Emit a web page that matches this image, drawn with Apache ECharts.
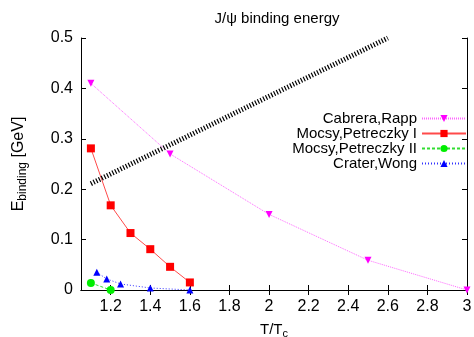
<!DOCTYPE html>
<html>
<head>
<meta charset="utf-8">
<script src="https://cdn.jsdelivr.net/npm/echarts@6/dist/echarts.min.js"></script>
<style>
  html, body { margin: 0; padding: 0; background: #fff; }
  #chart { width: 474px; height: 337px; }
</style>
</head>
<body>
<div id="chart"></div>
<script>
// values
var xTicks = [1.2, 1.4, 1.6, 1.8, 2, 2.2, 2.4, 2.6, 2.8, 3];
var cabreraRapp = [[1.1, 0.41], [1.5, 0.27], [2, 0.15], [2.5, 0.059], [3, 0]];
var mocsyI = [[1.1, 0.281], [1.2, 0.168], [1.3, 0.113], [1.4, 0.081], [1.5, 0.046], [1.6, 0.015]];
var mocsyII = [[1.1, 0.014], [1.2, 0]];
var craterWong = [[1.13, 0.035], [1.18, 0.022], [1.25, 0.012], [1.4, 0.004], [1.6, 0]];
var boundLine = [[1.1, 0.211], [2.6, 0.5]];

var chart = echarts.init(document.getElementById('chart'));
var font = 'Liberation Sans, Arial, sans-serif';

var option = {
  animation: false,
  textStyle: { fontFamily: font },
  title: {
    text: 'J/\u03c8 binding energy',
    left: 272, top: 6, textAlign: 'center',
    textStyle: { fontSize: 15, fontWeight: 'normal', color: '#000', fontFamily: font }
  },
  grid: { left: 81, right: 7, top: 38, bottom: 47, outerBoundsMode: 'none', containLabel: false },
  legend: {
    data: ['Cabrera,Rapp', 'Mocsy,Petreczky I', 'Mocsy,Petreczky II', 'Crater,Wong'],
    orient: 'vertical',
    align: 'right',
    right: 2, top: 105,
    itemWidth: 44, itemHeight: 9, itemGap: -2,
    textStyle: { fontSize: 15, lineHeight: 17, color: '#000', fontFamily: font }
  },
  xAxis: [{
    type: 'value', min: 1.05, max: 3,
    name: '{a|T/T}{c|c}', nameLocation: 'middle', nameGap: 30,
    nameTextStyle: { rich: {
      a: { fontSize: 15, color: '#000', fontFamily: font },
      c: { fontSize: 11, color: '#000', fontFamily: font, verticalAlign: 'bottom', padding: [8, 0, 0, 0] }
    } },
    axisLine: { lineStyle: { color: '#000', width: 1 } },
    axisTick: { inside: true, length: 5, customValues: xTicks, lineStyle: { color: '#000' } },
    axisLabel: { customValues: xTicks, fontSize: 16, color: '#000', margin: 9, fontFamily: font },
    splitLine: { show: false }
  }, {
    type: 'value', min: 1.05, max: 3, position: 'top',
    axisLine: { lineStyle: { color: '#000', width: 1 } },
    axisTick: { inside: true, length: 5, customValues: xTicks, lineStyle: { color: '#000' } },
    axisLabel: { show: false },
    splitLine: { show: false }
  }],
  yAxis: [{
    type: 'value', min: 0, max: 0.5, interval: 0.1,
    name: '{a|E}{b|binding}{a| [GeV]}', nameLocation: 'middle', nameGap: 52, nameRotate: 90,
    nameTextStyle: { rich: {
      a: { fontSize: 16, color: '#000', fontFamily: font },
      b: { fontSize: 12, color: '#000', fontFamily: font, verticalAlign: 'bottom', padding: [8, 0, 0, 0] }
    } },
    axisLine: { show: true, lineStyle: { color: '#000', width: 1 } },
    axisTick: { show: true, inside: true, length: 5, lineStyle: { color: '#000' } },
    axisLabel: { fontSize: 16, color: '#000', margin: 8, fontFamily: font },
    splitLine: { show: false }
  }, {
    type: 'value', min: 0, max: 0.5, interval: 0.1, position: 'right',
    axisLine: { show: true, lineStyle: { color: '#000', width: 1 } },
    axisTick: { show: true, inside: true, length: 5, lineStyle: { color: '#000' } },
    axisLabel: { show: false },
    splitLine: { show: false }
  }],
  series: [{
    name: 'Cabrera,Rapp', type: 'line', data: cabreraRapp,
    symbol: 'triangle', symbolRotate: 180, symbolSize: 7,
    itemStyle: { color: '#ff00ff' },
    lineStyle: { color: '#ff66ff', width: 1, type: [1, 1] }
  }, {
    name: 'Mocsy,Petreczky I', type: 'line', data: mocsyI,
    symbol: 'rect', symbolSize: 8,
    itemStyle: { color: '#ff0000' },
    lineStyle: { color: '#ff4a4a', width: 1 }
  }, {
    name: 'Mocsy,Petreczky II', type: 'line', data: mocsyII,
    symbol: 'circle', symbolSize: 8,
    itemStyle: { color: '#00ee00' },
    lineStyle: { color: '#33dd33', width: 1, type: [3, 2] }
  }, {
    name: 'Crater,Wong', type: 'line', data: craterWong,
    symbol: 'triangle', symbolSize: 7,
    itemStyle: { color: '#0000ff' },
    lineStyle: { color: '#3333ff', width: 1, type: [1, 2] }
  }, {
    name: 'bound', type: 'line', data: boundLine,
    symbol: 'none', silent: true,
    lineStyle: { color: '#000', width: 5, type: [1.2, 1.8] }
  }]
};
chart.setOption(option);
</script>
</body>
</html>
